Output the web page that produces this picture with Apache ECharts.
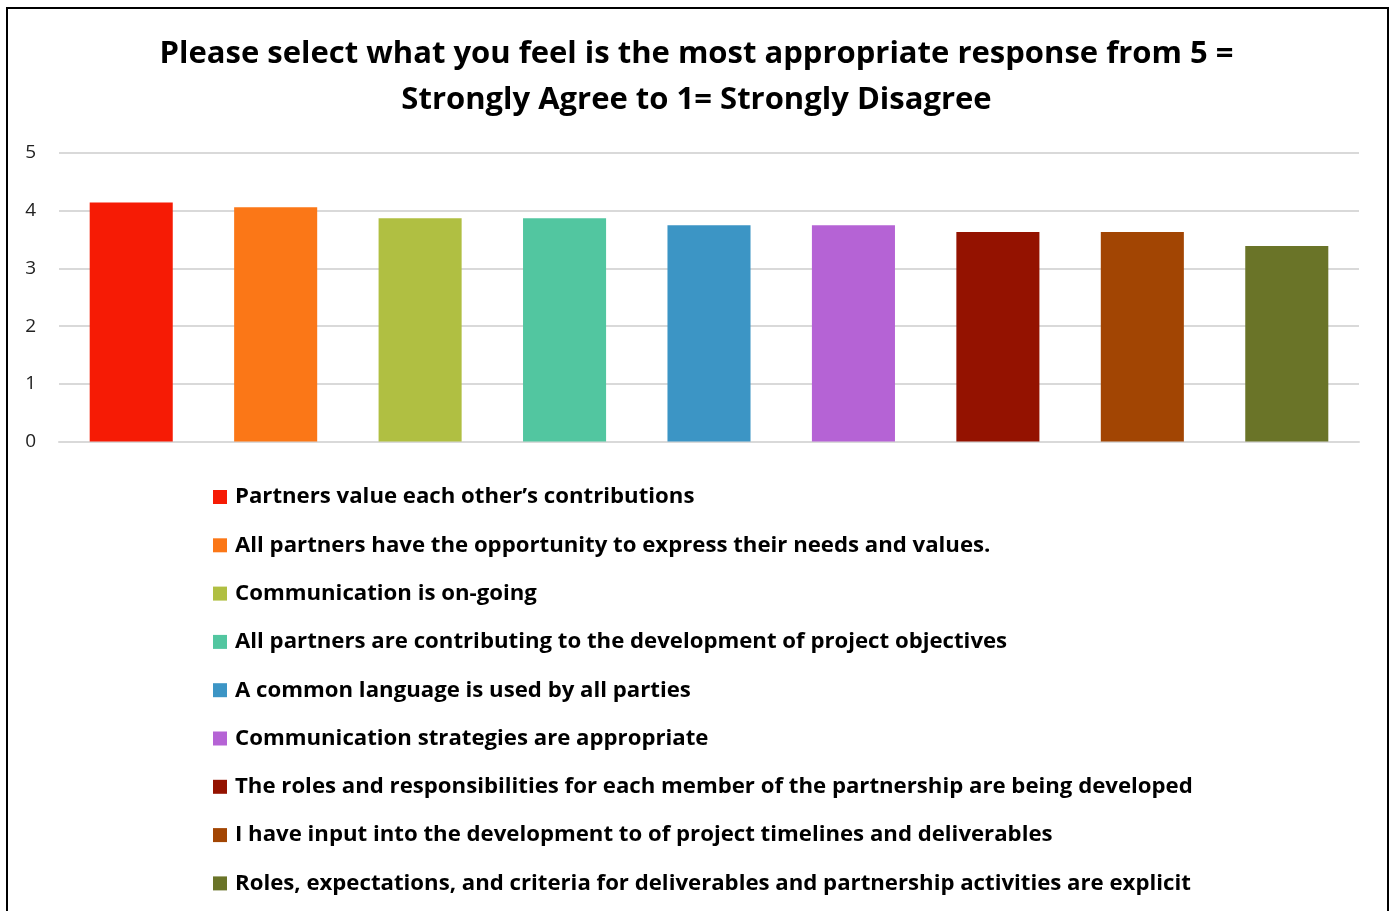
<!DOCTYPE html>
<html>
<head>
<meta charset="utf-8">
<script src="https://cdn.jsdelivr.net/npm/echarts@6/dist/echarts.min.js"></script>
<style>
  html, body { margin: 0; padding: 0; background: #fff; }
  #chart { width: 1393px; height: 911px; }
</style>
</head>
<body>
<div id="chart"></div>
<script>
// statements shown in the legend, one bar each
const statements = [
  'Partners value each other\u2019s contributions',
  'All partners have the opportunity to express their needs and values.',
  'Communication is on-going',
  'All partners are contributing to the development of project objectives',
  'A common language is used by all parties',
  'Communication strategies are appropriate',
  'The roles and responsibilities for each member of the partnership are being developed',
  'I have input into the development to of project timelines and deliverables',
  'Roles, expectations, and criteria for deliverables and partnership activities are explicit'
];
// average score per statement
const scores = [4.14, 4.06, 3.87, 3.87, 3.75, 3.75, 3.63, 3.63, 3.39];
const barColors = ['#F61B05', '#FB7717', '#B0BF42', '#52C6A0', '#3C95C5', '#B563D5', '#941200', '#A24503', '#6A7428'];
const yTicks = [0, 1, 2, 3, 4, 5];

const chart = echarts.init(document.getElementById('chart'));

const series = statements.map((name, i) => ({
  name: name,
  type: 'bar',
  stack: 'all',
  barWidth: '57.5%',
  itemStyle: { color: barColors[i] },
  data: statements.map((s, j) => (j === i ? scores[i] : '-'))
}));

chart.setOption({
  animation: false,
  title: {
    text: 'Please select what you feel is the most appropriate response from 5 =\nStrongly Agree to 1= Strongly Disagree',
    left: 'center',
    top: 26,
    textStyle: {
      fontFamily: 'Open Sans',
      fontWeight: 'bold',
      fontSize: 31,
      lineHeight: 46,
      color: '#000'
    }
  },
  graphic: [{
    type: 'rect',
    shape: { x: 7, y: 8, width: 1381, height: 930 },
    style: { fill: 'none', stroke: '#000', lineWidth: 2 },
    silent: true
  }],
  legend: {
    orient: 'vertical',
    left: 208,
    top: 481,
    icon: 'rect',
    itemWidth: 14,
    itemHeight: 14,
    itemGap: 26.3,
    selectedMode: false,
    textStyle: {
      fontFamily: 'Open Sans',
      fontWeight: 'bold',
      fontSize: 22.2,
      lineHeight: 22,
      color: '#000',
      padding: [0, 0, 0, 3]
    },
    data: statements
  },
  grid: { left: 59, right: 34, top: 153, bottom: 469.5 },
  xAxis: {
    type: 'category',
    data: statements,
    axisLine: { lineStyle: { color: '#d9d9d9', width: 2 } },
    axisTick: { show: false },
    axisLabel: { show: false }
  },
  yAxis: {
    type: 'value',
    min: yTicks[0],
    max: yTicks[yTicks.length - 1],
    interval: 1,
    axisLine: { show: false },
    axisTick: { show: false },
    axisLabel: {
      fontFamily: 'Open Sans',
      fontSize: 19,
      color: '#222',
      margin: 23
    },
    splitLine: { lineStyle: { color: '#d9d9d9', width: 2 } }
  },
  series: series
});
</script>
</body>
</html>
